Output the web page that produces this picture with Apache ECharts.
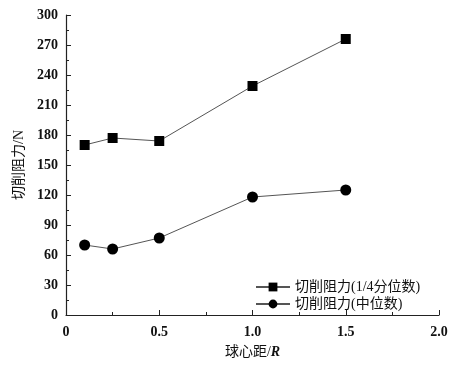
<!DOCTYPE html>
<html><head><meta charset="utf-8">
<script src="https://cdn.jsdelivr.net/npm/echarts@6/dist/echarts.min.js"></script>
<style>html,body{margin:0;padding:0;background:#fff}#c{width:464px;height:368px}</style>
</head><body><div id="c"></div>
<script>
const xValues = [0.1, 0.25, 0.5, 1.0, 1.5];
const quartileForce = [170, 177, 174, 229, 276];
const medianForce = [70, 66, 77, 118, 125];
const seriesNames = ['切削阻力(1/4分位数)', '切削阻力(中位数)'];

const font = '"Liberation Serif", "Noto Sans CJK SC", serif';
const chart = echarts.init(document.getElementById('c'));
const axisCommon = {
  axisLine: {show: true, lineStyle: {color: '#222', width: 1.2}},
  axisTick: {show: true, inside: true, length: 5, lineStyle: {color: '#222'}},
  minorTick: {show: true, splitNumber: 2, length: 3, lineStyle: {color: '#222'}},
  splitLine: {show: false},
  axisLabel: {color: '#111', fontFamily: font, fontSize: 14, fontWeight: 'bold'}
};
chart.setOption({
  animation: false,
  backgroundColor: '#fff',
  grid: {left: 66, right: 25, top: 15, bottom: 53},
  legend: {
    orient: 'vertical', left: 250, top: 275, itemGap: 3,
    itemWidth: 34, itemHeight: 11,
    textStyle: {fontFamily: font, fontSize: 14, color: '#111'},
    data: seriesNames
  },
  xAxis: Object.assign({
    type: 'value', min: 0, max: 2, interval: 0.5,
    name: '{a|球心距/}{b|R}', nameLocation: 'middle', nameGap: 30,
    nameTextStyle: {rich: {
      a: {fontFamily: font, fontSize: 14, color: '#111'},
      b: {fontFamily: font, fontSize: 14, fontStyle: 'italic', fontWeight: 'bold', color: '#111'}
    }}
  }, axisCommon, {axisLabel: Object.assign({}, axisCommon.axisLabel, {
    formatter: v => v === 0 ? '0' : v.toFixed(1), margin: 10})}),
  yAxis: Object.assign({
    type: 'value', min: 0, max: 300, interval: 30,
    name: '切削阻力/N', nameLocation: 'middle', nameGap: 37,
    nameTextStyle: {fontFamily: font, fontSize: 14, color: '#111'}
  }, axisCommon, {axisLabel: Object.assign({}, axisCommon.axisLabel, {margin: 8})}),
  series: [
    {name: seriesNames[0], type: 'line', data: xValues.map((x, i) => [x, quartileForce[i]]),
     symbol: 'rect', symbolSize: 10, lineStyle: {color: '#555', width: 1},
     itemStyle: {color: '#000'}},
    {name: seriesNames[1], type: 'line', data: xValues.map((x, i) => [x, medianForce[i]]),
     symbol: 'circle', symbolSize: 11, lineStyle: {color: '#555', width: 1},
     itemStyle: {color: '#000'}}
  ]
});
</script></body></html>
